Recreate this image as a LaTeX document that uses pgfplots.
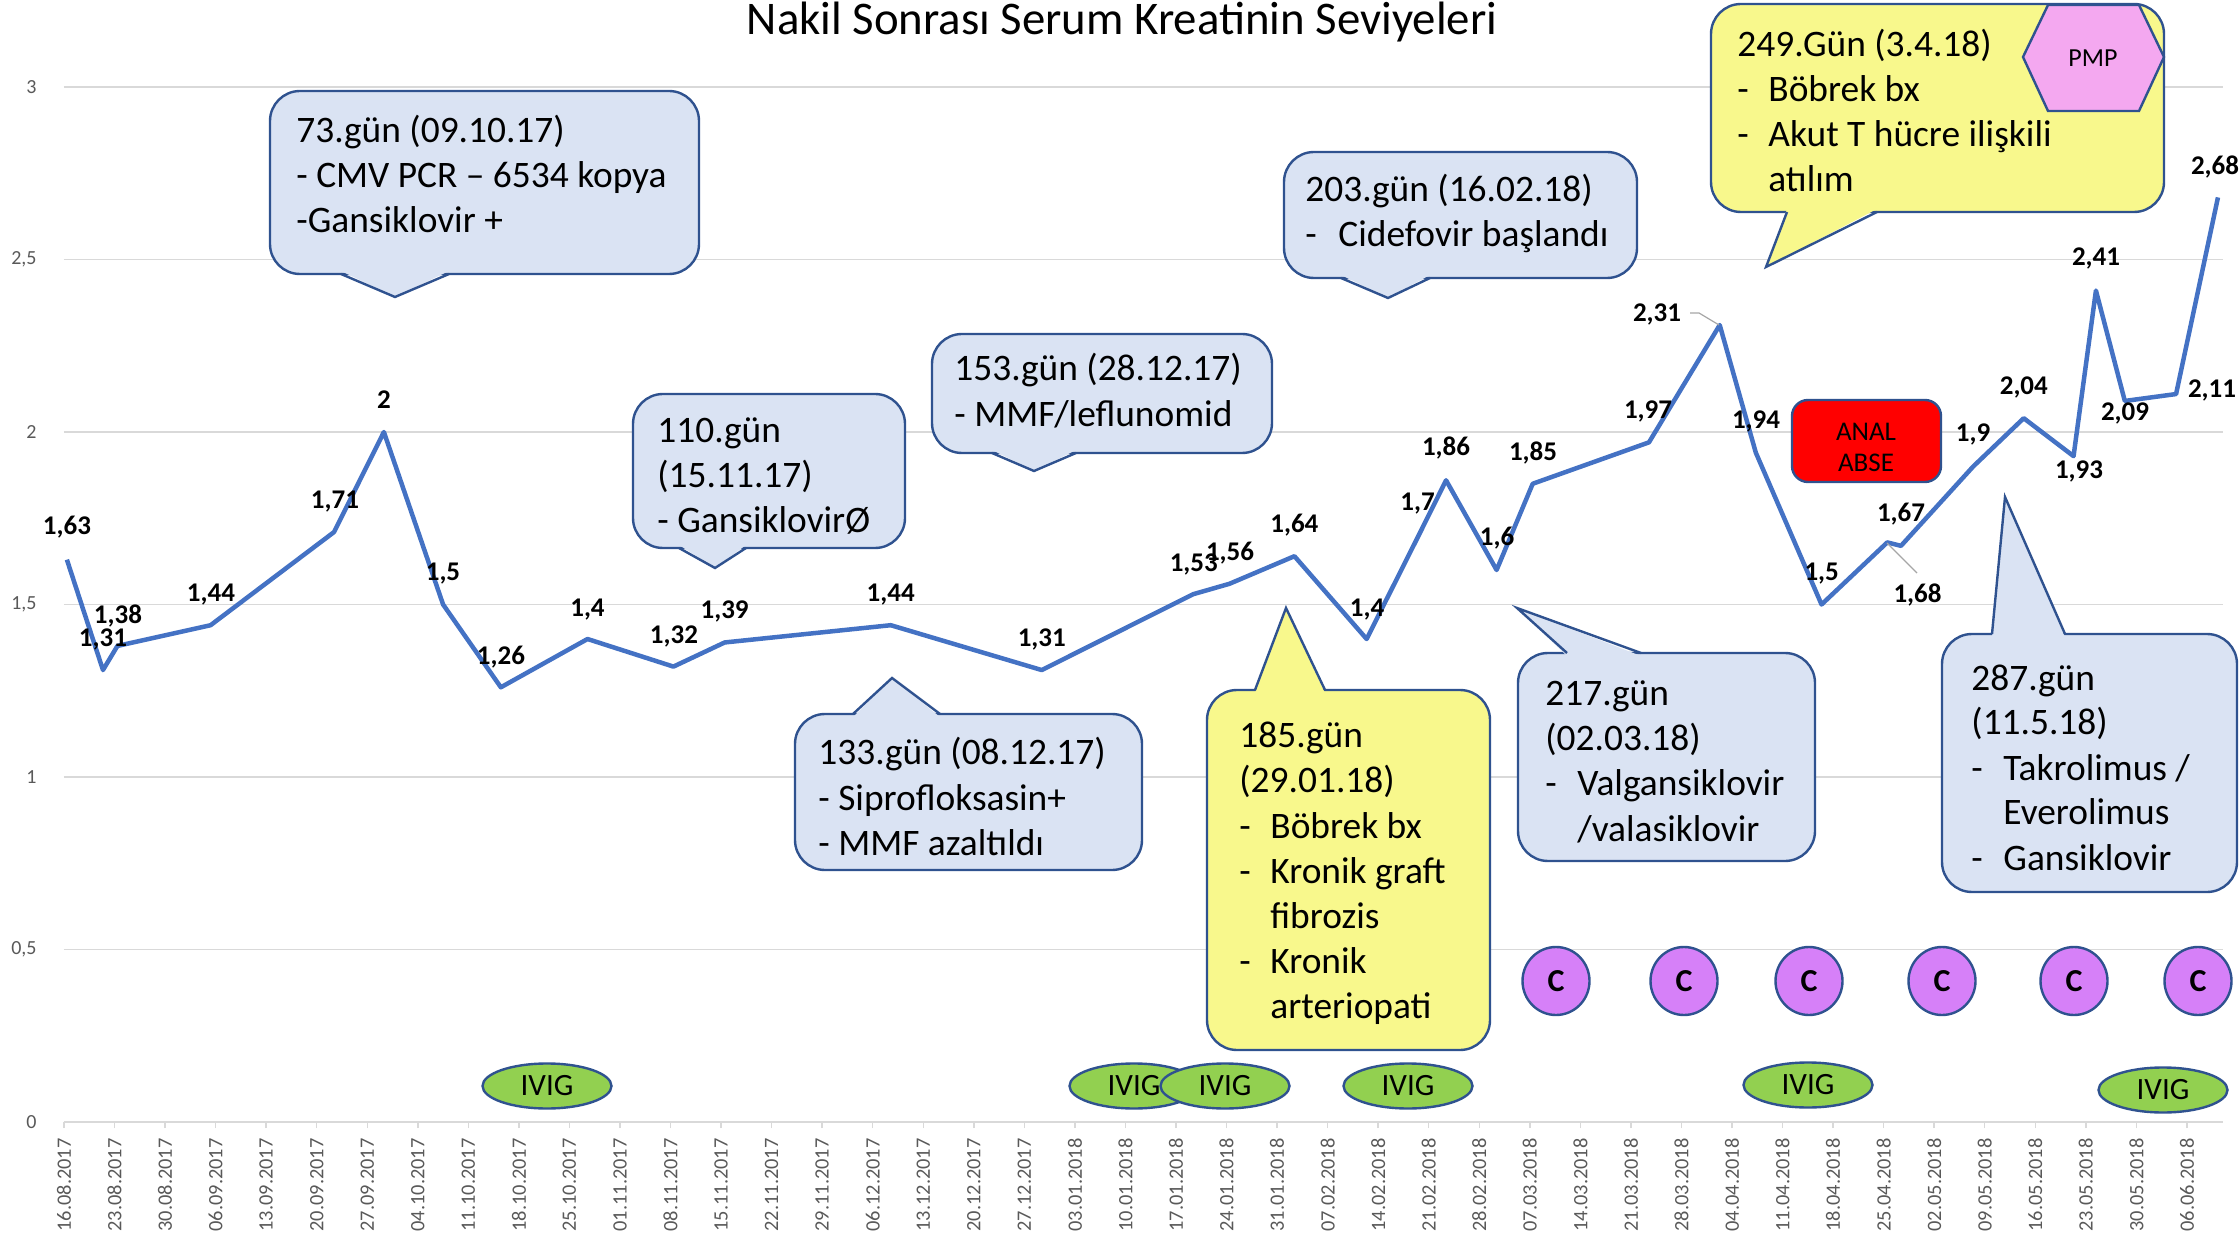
\documentclass[border=0pt]{standalone}
\usepackage{fontspec}
\setmainfont{Carlito}
\usepackage{pgfplots}
\pgfplotsset{compat=1.18}
\definecolor{lineblue}{RGB}{68,114,196}
\definecolor{gridgray}{RGB}{217,217,217}
\definecolor{tickgray}{RGB}{89,89,89}
\definecolor{calloutblue}{RGB}{218,227,243}
\definecolor{edgeblue}{RGB}{47,82,143}
\definecolor{calyellow}{RGB}{248,248,140}
\definecolor{ivgreen}{RGB}{146,208,80}
\definecolor{cpurple}{RGB}{214,128,248}
\definecolor{pmppink}{RGB}{244,168,240}
\definecolor{leader}{RGB}{166,166,166}
\newcommand{\cofont}{\fontsize{18.7pt}{22.5pt}\selectfont}
\newcommand{\dlfont}{\fontsize{13.5pt}{16pt}\selectfont\bfseries}
\newcommand{\dl}[3]{\node[anchor=base, inner sep=0pt, font=\dlfont] at (#1,{#2+8}) {#3};}
\newcommand{\tl}[3]{\node[anchor=base west, inner sep=0pt, font=\cofont] at (#1,#2) {#3};}
% callout with pointer on the bottom edge: fill, L, T, R, B, b1, b2, tipx, tipy
\newcommand{\calloutB}[9]{%
  \filldraw[fill=#1, draw=edgeblue, line width=1.2pt, rounded corners=15pt] (#2,#3) rectangle (#4,#5);
  \fill[#1] (#6,{#5-3}) -- (#8,#9) -- (#7,{#5-3}) -- cycle;
  \draw[edgeblue, line width=1.2pt] (#6,#5) -- (#8,#9) -- (#7,#5);}
% callout with pointer on the top edge
\newcommand{\calloutT}[9]{%
  \filldraw[fill=#1, draw=edgeblue, line width=1.2pt, rounded corners=15pt] (#2,#3) rectangle (#4,#5);
  \fill[#1] (#6,{#3+3}) -- (#8,#9) -- (#7,{#3+3}) -- cycle;
  \draw[edgeblue, line width=1.2pt] (#6,#3) -- (#8,#9) -- (#7,#3);}
\newcommand{\ivig}[2]{%
  \filldraw[fill=ivgreen, draw=edgeblue, line width=1.2pt] (#1,#2) ellipse [x radius=64.5, y radius=22.5];
  \node[font=\fontsize{15.5pt}{18pt}\selectfont, inner sep=0pt] at (#1,#2) {IVIG};}
\newcommand{\cc}[1]{%
  \filldraw[fill=cpurple, draw=edgeblue, line width=1.2pt] (#1,981) ellipse [x radius=33.5, y radius=34];
  \node[font=\fontsize{16pt}{18pt}\selectfont\bfseries, inner sep=0pt] at (#1,981) {C};}
\begin{document}
\begin{tikzpicture}
\begin{scope}[x=0.5pt, y=-0.5pt, shift={(-32pt,561pt)}]
\path[use as bounding box] (0,0) rectangle (2239,1239);
\end{scope}
\begin{axis}[
  at={(0,0)}, anchor=south west,
  scale only axis, width=1079.5pt, height=517.5pt,
  xmin=0, xmax=299, ymin=0, ymax=3,
  clip=false,
  axis x line*=bottom, axis y line*=left,
  y axis line style={draw=none},
  x axis line style={draw=gridgray, line width=1pt},
  ymajorgrids, major grid style={draw=gridgray, line width=0.75pt},
  ytick={0,0.5,...,3},
  yticklabels={0,{0,5},1,{1,5},2,{2,5},3},
  ytick style={draw=none},
  yticklabel style={font=\fontsize{10pt}{12pt}\selectfont, text=tickgray, inner sep=0pt, anchor=east},
  yticklabel shift=10.5pt,
  xtick={0,7,...,294},
  xticklabels={16.08.2017,23.08.2017,30.08.2017,06.09.2017,13.09.2017,20.09.2017,27.09.2017,04.10.2017,11.10.2017,18.10.2017,25.10.2017,01.11.2017,08.11.2017,15.11.2017,22.11.2017,29.11.2017,06.12.2017,13.12.2017,20.12.2017,27.12.2017,03.01.2018,10.01.2018,17.01.2018,24.01.2018,31.01.2018,07.02.2018,14.02.2018,21.02.2018,28.02.2018,07.03.2018,14.03.2018,21.03.2018,28.03.2018,04.04.2018,11.04.2018,18.04.2018,25.04.2018,02.05.2018,09.05.2018,16.05.2018,23.05.2018,30.05.2018,06.06.2018},
  tick align=outside, major tick length=3pt,
  xtick style={draw=gridgray, line width=0.75pt},
  xticklabel style={rotate=90, anchor=east, inner sep=0pt, font=\fontsize{10.2pt}{12pt}\selectfont, text=tickgray},
  xticklabel shift=5pt,
]
\addplot[color=lineblue, line width=2.25pt, line join=round, mark=none] coordinates {
(0.4,1.63) (5.4,1.31) (7.4,1.38) (20.3,1.44) (37.4,1.71) (44.3,2) (52.5,1.5) (60.5,1.26)
(72.5,1.4) (84.4,1.32) (91.5,1.39) (114.5,1.44) (135.4,1.31) (156.4,1.53) (161.4,1.56)
(170.4,1.64) (180.4,1.4) (187.6,1.7) (191.4,1.86) (198.4,1.6) (203.4,1.85) (219.5,1.97)
(229.3,2.31) (234.3,1.94) (243.4,1.5) (252.5,1.68) (254.4,1.67) (264.4,1.9) (271.4,2.04)
(278.3,1.93) (281.4,2.41) (285.4,2.09) (292.5,2.11) (298.3,2.68)};
\end{axis}
\begin{scope}[x=0.5pt, y=-0.5pt, shift={(-32pt,561pt)}]
% title
\node[anchor=base, inner sep=0pt, font=\fontsize{23.4pt}{27pt}\selectfont] at (1122,35) {Nakil Sonrası Serum Kreatinin Seviyeleri};
% leader lines
\draw[leader, line width=0.6pt] (1690,313) -- (1699,313) -- (1719,325);
\draw[leader, line width=0.6pt] (1887,543) -- (1917,573);
% data labels
\dl{67}{527}{1,63}
\dl{118}{615}{1,38}
\dl{103}{639}{1,31}
\dl{211}{594}{1,44}
\dl{335}{501}{1,71}
\dl{384}{401}{2}
\dl{443}{573}{1,5}
\dl{501}{656}{1,26}
\dl{587.5}{608}{1,4}
\dl{674}{635}{1,32}
\dl{724.6}{611}{1,39}
\dl{890.7}{594}{1,44}
\dl{1041.8}{639}{1,31}
\dl{1193.8}{563}{1,53}
\dl{1230}{553}{1,56}
\dl{1294.4}{525}{1,64}
\dl{1367}{608}{1,4}
\dl{1417.6}{503}{1,7}
\dl{1446}{448}{1,86}
\dl{1497}{538}{1,6}
\dl{1533}{453}{1,85}
\dl{1648}{411}{1,97}
\dl{1657}{314}{2,31}
\dl{1756}{421}{1,94}
\dl{1821.7}{573}{1,5}
\dl{1901}{514}{1,67}
\dl{1917.5}{595}{1,68}
\dl{1973}{434}{1,9}
\dl{2023.8}{387}{2,04}
\dl{2079}{471}{1,93}
\dl{2096}{258}{2,41}
\dl{2125}{413}{2,09}
\dl{2212}{390}{2,11}
\dl{2215}{167}{2,68}
% callout 73
\calloutB{calloutblue}{270}{91}{699}{274}{341}{449}{395}{297}
\tl{296}{143}{73.gün (09.10.17)}
\tl{296}{188}{- CMV PCR – 6534 kopya}
\tl{296}{233}{-Gansiklovir +}
% callout 110
\calloutB{calloutblue}{633}{394}{905}{548}{679}{746}{715}{568}
\tl{657}{443}{110.gün}
\tl{657}{488}{(15.11.17)}
\tl{657}{533}{- GansiklovirØ}
% callout 153
\calloutB{calloutblue}{932}{334}{1272}{453}{992}{1076}{1034}{471}
\tl{954}{381}{153.gün (28.12.17)}
\tl{954}{427}{- MMF/leflunomid}
% callout 133
\calloutT{calloutblue}{795}{714}{1142}{870}{853}{940}{892}{678}
\tl{818}{764}{133.gün (08.12.17)}
\tl{818}{810}{- Siprofloksasin+}
\tl{818}{855}{- MMF azaltıldı}
% callout 185
\calloutT{calyellow}{1207}{690}{1490}{1050}{1255}{1325}{1286}{608}
\tl{1239}{747}{185.gün}
\tl{1239}{792}{(29.01.18)}
\tl{1239}{838}{-}\tl{1270}{838}{Böbrek bx}
\tl{1239}{883}{-}\tl{1270}{883}{Kronik graft}
\tl{1270}{928}{fibrozis}
\tl{1239}{973}{-}\tl{1270}{973}{Kronik}
\tl{1270}{1018}{arteriopati}
% callout 203
\calloutB{calloutblue}{1284}{152}{1637}{278}{1341}{1430}{1388}{298}
\tl{1305}{202}{203.gün (16.02.18)}
\tl{1305}{247}{-}\tl{1338}{247}{Cidefovir başlandı}
% callout 249
\calloutB{calyellow}{1711}{4}{2164}{212}{1787}{1877}{1766}{267}
\tl{1737}{57}{249.Gün (3.4.18)}
\tl{1737}{102}{-}\tl{1768}{102}{Böbrek bx}
\tl{1737}{147}{-}\tl{1768}{147}{Akut T hücre ilişkili}
\tl{1768}{192}{atılım}
\filldraw[fill=pmppink, draw=edgeblue, line width=1.2pt] (2023,57) -- (2048,5) -- (2139,5) -- (2164,57) -- (2139,111) -- (2048,111) -- cycle;
\node[font=\fontsize{13pt}{15pt}\selectfont, inner sep=0pt] at (2093,58) {PMP};
% callout 217
\calloutT{calloutblue}{1518}{653}{1815}{861}{1567}{1641}{1517}{608}
\tl{1545}{705}{217.gün}
\tl{1545}{750}{(02.03.18)}
\tl{1545}{795}{-}\tl{1577}{795}{Valgansiklovir}
\tl{1577}{841}{/valasiklovir}
% callout 287
\calloutT{calloutblue}{1942}{634}{2237}{892}{1992}{2065}{2005}{497}
\tl{1971}{690}{287.gün}
\tl{1971}{734}{(11.5.18)}
\tl{1971}{780}{-}\tl{2003}{780}{Takrolimus /}
\tl{2003}{824}{Everolimus}
\tl{1971}{870}{-}\tl{2003}{870}{Gansiklovir}
% anal abse
\filldraw[fill=red, draw=edgeblue, line width=1.2pt, rounded corners=8pt] (1792,400) rectangle (1941,482);
\node[font=\fontsize{13.5pt}{16pt}\selectfont, inner sep=0pt] at (1866,432) {ANAL};
\node[font=\fontsize{13.5pt}{16pt}\selectfont, inner sep=0pt] at (1866,463) {ABSE};
% C circles
\cc{1556}\cc{1684}\cc{1809}\cc{1942}\cc{2074}\cc{2198}
% IVIG
\ivig{547}{1086}
\ivig{1134}{1086}
\ivig{1225}{1086}
\ivig{1408}{1086}
\ivig{1808}{1085}
\ivig{2163}{1090}
\end{scope}
\end{tikzpicture}
\end{document}
